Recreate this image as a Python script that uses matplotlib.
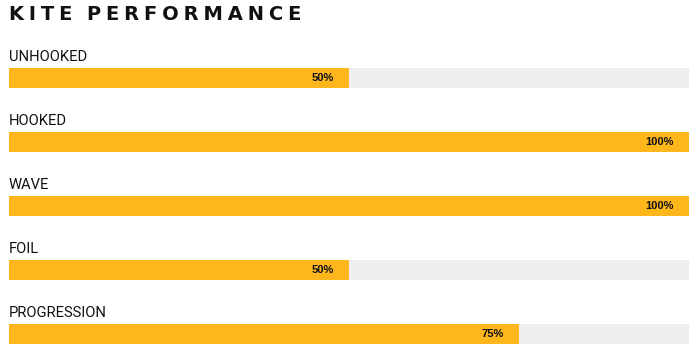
import matplotlib
matplotlib.use("Agg")
import matplotlib.pyplot as plt

title = "KITE PERFORMANCE"
categories = ["UNHOOKED", "HOOKED", "WAVE", "FOIL", "PROGRESSION"]
values = [50, 100, 100, 50, 75]
value_labels = ["50%", "100%", "100%", "50%", "75%"]

W, H = 697, 354
fig = plt.figure(figsize=(W / 100, H / 100), dpi=100)
ax = fig.add_axes([9 / W, 0, 680 / W, 1])
ax.set_xlim(0, 100)
ax.set_ylim((H - 78) / 64, -78 / 64)
ax.axis("off")

orange = "#FDB71C"
track = "#EEEEEE"
bh = 20 / 64

for i, (cat, v, lab) in enumerate(zip(categories, values, value_labels)):
    ax.barh(i, 100, height=bh, color=track, left=0)
    ax.barh(i, v, height=bh, color=orange, left=0)
    ax.text(v - 2.3, i, lab, ha="right", va="center", fontsize=8,
            fontweight="bold", family="Liberation Sans", color="#111111")
    ax.text(0, i - 21 / 64, cat, ha="left", va="center", fontsize=10.6,
            family="Roboto", color="#111111")

sp = "\u2005"
spaced = (sp * 3).join(sp.join(w) for w in title.split(" "))
ax.text(0, -1.0, spaced, ha="left", va="center", fontsize=14,
        fontweight="bold", family="DejaVu Sans", color="#111111")

fig.savefig("out.png", dpi=100)
